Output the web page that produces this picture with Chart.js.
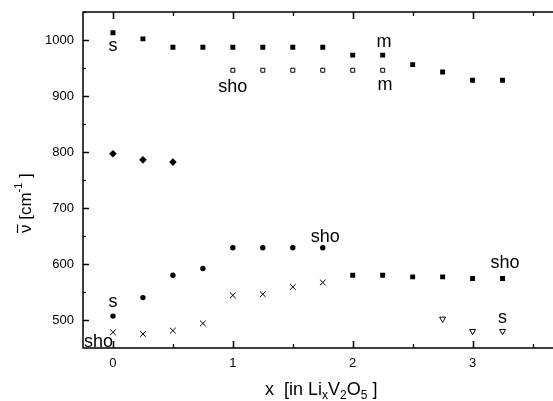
<!DOCTYPE html>
<html>
<head>
<meta charset="utf-8">
<script src="https://cdn.jsdelivr.net/npm/chart.js@4/dist/chart.umd.min.js"></script>
<style>
html,body{margin:0;padding:0;background:#fff;overflow:hidden;}
#wrap{width:580px;height:401px;}
</style>
</head>
<body>
<div id="wrap"><canvas id="c" width="580" height="401"></canvas></div>
<script>
// ---- data ----
const xTicks = [0, 1, 2, 3];
const yTicks = [500, 600, 700, 800, 900, 1000];

const sqUpperX = [0, 0.25, 0.5, 0.75, 1, 1.25, 1.5, 1.75, 2, 2.25, 2.5, 2.75, 3, 3.25];
const sqUpperY = [1013, 1002, 987, 987, 987, 987, 987, 987, 973, 973, 956, 943, 928, 928];

const openSqX = [1, 1.25, 1.5, 1.75, 2, 2.25];
const openSqY = [946, 946, 946, 946, 946, 946];

const diamondX = [0, 0.25, 0.5];
const diamondY = [797, 786, 782];

const circleX = [0, 0.25, 0.5, 0.75, 1, 1.25, 1.5, 1.75];
const circleY = [507, 540, 580, 592, 629, 629, 629, 629];

const sqLowerX = [2, 2.25, 2.5, 2.75, 3, 3.25];
const sqLowerY = [580, 580, 577, 577, 574, 574];

const crossX = [0, 0.25, 0.5, 0.75, 1, 1.25, 1.5, 1.75];
const crossY = [478, 475, 481, 494, 544, 546, 559, 567];

const triX = [2.75, 3, 3.25];
const triY = [502, 480, 480];

// text annotations (label, x, y in data coordinates of baseline centre)
const annoText = ['s', 'sho', 'm', 'm', 'sho', 's', 'sho', 'sho', 's'];
const annoX    = [0, 1.0, 2.26, 2.27, 1.77, 0.0, -0.12, 3.27, 3.25];
const annoY    = [980, 907, 988, 911, 640, 524, 452.5, 592, 494];

function pts(xs, ys){ return xs.map((v,i)=>({x:v, y:ys[i]})); }

const axesPlugin = {
  id: 'axesBox',
  beforeDatasetsDraw(chart){
    const {ctx, chartArea:a, scales:{x, y}} = chart;
    ctx.save();
    ctx.strokeStyle = '#000';
    ctx.lineWidth = 1.5;
    ctx.beginPath();
    ctx.rect(a.left, a.top, a.right - a.left, a.bottom - a.top);
    ctx.stroke();
    // x ticks
    for (let v = 0; v <= 3.5001; v += 0.5) {
      const px = Math.round(x.getPixelForValue(v)) + 0.5;
      const major = Math.abs(v - Math.round(v)) < 1e-6;
      const len = major ? 7 : 4;
      ctx.lineWidth = major ? 1.5 : 1.2;
      ctx.beginPath();
      ctx.moveTo(px, a.bottom); ctx.lineTo(px, a.bottom - len);
      ctx.moveTo(px, a.top); ctx.lineTo(px, a.top + len);
      ctx.stroke();
    }
    // y ticks
    for (let v = 500; v <= 1050; v += 50) {
      const py = Math.round(y.getPixelForValue(v)) + 0.5;
      const major = v % 100 === 0;
      const len = major ? 6 : 3;
      ctx.lineWidth = major ? 1.5 : 1.2;
      ctx.beginPath();
      ctx.moveTo(a.left, py); ctx.lineTo(a.left + len, py);
      ctx.stroke();
    }
    ctx.restore();
  },
  afterDraw(chart){
    const {ctx, scales:{x, y}} = chart;
    ctx.save();
    ctx.fillStyle = '#000';
    ctx.strokeStyle = '#000';
    ctx.font = '18px "Liberation Sans", Arial, sans-serif';
    ctx.textAlign = 'center';
    ctx.textBaseline = 'alphabetic';
    annoText.forEach((t,i)=>{
      ctx.fillText(t, x.getPixelForValue(annoX[i]), y.getPixelForValue(annoY[i]));
    });

    // x-axis title with subscripts
    const big = '18px "Liberation Sans", Arial, sans-serif';
    const small = '12px "Liberation Sans", Arial, sans-serif';
    const segs = [['x  [in Li', 0], ['x', 1], ['V', 0], ['2', 1], ['O', 0], ['5', 1], [' ]', 0]];
    ctx.textAlign = 'left';
    let cx = 265, base = 395;
    segs.forEach(([t, sub])=>{
      ctx.font = sub ? small : big;
      ctx.fillText(t, cx, base + (sub ? 4 : 0));
      cx += ctx.measureText(t).width;
    });

    // y-axis title rotated
    const ybig = '17px "Liberation Sans", Arial, sans-serif';
    const ysmall = '11px "Liberation Sans", Arial, sans-serif';
    ctx.translate(31, 233);
    ctx.rotate(-Math.PI/2);
    let lx = 0;
    ctx.font = ybig;
    const nuW = ctx.measureText('\u03bd').width;
    ctx.fillText('\u03bd', lx, 0);
    ctx.lineWidth = 1.2;
    ctx.beginPath();
    ctx.moveTo(lx, -13.5); ctx.lineTo(lx + nuW, -13.5);
    ctx.stroke();
    lx += nuW;
    ctx.fillText(' [cm', lx, 0); lx += ctx.measureText(' [cm').width;
    ctx.font = ysmall;
    ctx.fillText('-1', lx, -9); lx += ctx.measureText('-1').width;
    ctx.font = ybig;
    ctx.fillText(' ]', lx, 0);
    ctx.restore();
  }
};

const tickFont = {family: '"Liberation Sans", Arial, sans-serif', size: 13};

new Chart(document.getElementById('c'), {
  type: 'scatter',
  data: {
    datasets: [
      {data: pts(sqUpperX, sqUpperY), pointStyle: 'rect', pointRadius: 3.5, backgroundColor: '#000', borderColor: '#000', borderWidth: 0},
      {data: pts(openSqX, openSqY), pointStyle: 'rect', pointRadius: 2.8, backgroundColor: '#fff', borderColor: '#000', borderWidth: 1},
      {data: pts(diamondX, diamondY), pointStyle: 'rectRot', pointRadius: 3.8, backgroundColor: '#000', borderColor: '#000', borderWidth: 0},
      {data: pts(circleX, circleY), pointStyle: 'circle', pointRadius: 2.7, backgroundColor: '#000', borderColor: '#000', borderWidth: 0},
      {data: pts(sqLowerX, sqLowerY), pointStyle: 'rect', pointRadius: 3.5, backgroundColor: '#000', borderColor: '#000', borderWidth: 0},
      {data: pts(crossX, crossY), pointStyle: 'crossRot', pointRadius: 4, backgroundColor: '#000', borderColor: '#000', borderWidth: 1},
      {data: pts(triX, triY), pointStyle: 'triangle', rotation: 180, pointRadius: 3.5, backgroundColor: '#fff', borderColor: '#000', borderWidth: 1}
    ]
  },
  options: {
    responsive: false,
    animation: false,
    devicePixelRatio: 1,
    layout: {padding: {top: 12, right: 17.5, left: 0, bottom: 0}},
    plugins: {legend: {display: false}, tooltip: {enabled: false}},
    scales: {
      x: {
        type: 'linear', min: -0.25, max: 3.75,
        grid: {display: false, drawTicks: false},
        border: {display: false},
        afterBuildTicks(s){ s.ticks = xTicks.map(v=>({value: v})); },
        afterFit(s){ s.height = 53; s.paddingLeft = 0; s.paddingRight = 0; s.paddingTop = 0; s.paddingBottom = 0; },
        ticks: {color: '#000', font: tickFont, padding: 8, maxRotation: 0, autoSkip: false, callback: v => String(v)}
      },
      y: {
        type: 'linear', min: 450, max: 1050,
        grid: {display: false, drawTicks: false},
        border: {display: false},
        afterBuildTicks(s){ s.ticks = yTicks.map(v=>({value: v})); },
        afterFit(s){ s.width = 83; s.paddingTop = 0; s.paddingBottom = 0; s.paddingLeft = 0; s.paddingRight = 0; },
        ticks: {color: '#000', font: tickFont, padding: 9, autoSkip: false, callback: v => String(v)}
      }
    }
  },
  plugins: [axesPlugin]
});
</script>
</body>
</html>
